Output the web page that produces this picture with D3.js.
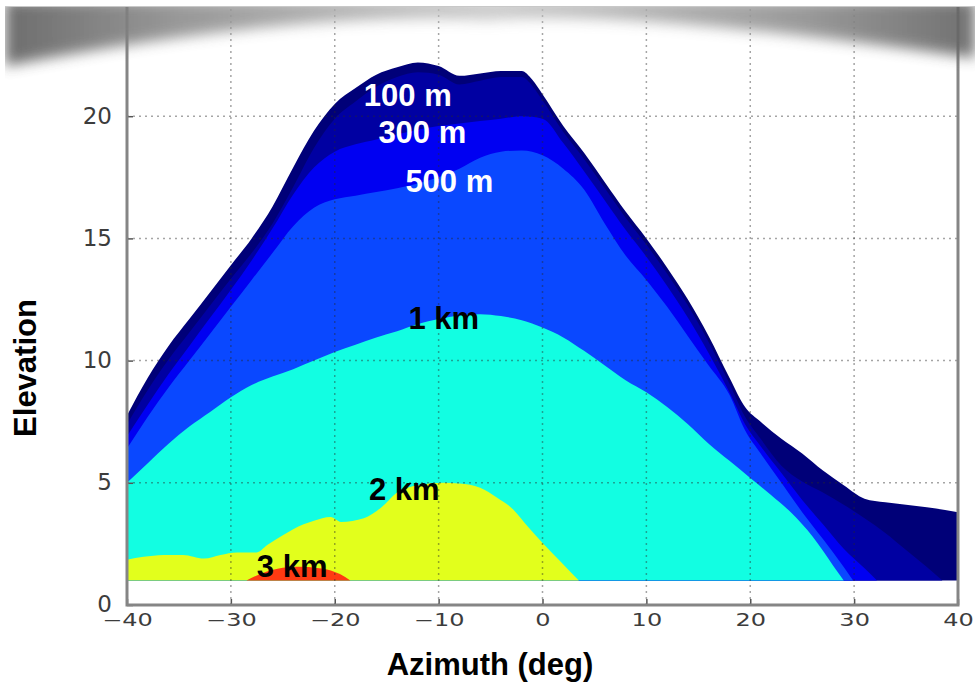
<!DOCTYPE html>
<html>
<head>
<meta charset="utf-8">
<script src="https://cdnjs.cloudflare.com/ajax/libs/d3/7.8.5/d3.min.js"></script>
<style>
  html, body { margin: 0; padding: 0; background: #fff; }
  svg { display: block; }
  .lbl { font-family: "Liberation Sans", Arial, sans-serif; font-weight: bold; font-size: 31px; }
  .tick text { font-family: "DejaVu Sans", sans-serif; fill: #3c3c3c; }
</style>
</head>
<body>
<svg id="chart" width="975" height="685"></svg>
<script>
(function() {
  'use strict';

  // contour bands, outermost first: [azimuth, elevation] of each band's top edge
  var band100m = [[-40,7.75],[-38,9.3],[-36,10.6],[-34,11.7],[-32,12.8],[-30,13.9],[-28,15.0],[-26,16.3],[-24,17.9],[-22,19.4],[-20,20.5],[-18,21.15],[-16,21.7],[-14,22.0],[-12,22.2],[-10,22.05],[-8,21.65],[-6,21.75],[-4,21.85],[-2,21.85],[-1,21.5],[0,20.9],[2,19.6],[4,18.5],[6,17.3],[8,16.1],[10,15.0],[12,13.8],[14,12.5],[16,11.0],[18,9.3],[19.5,8.1],[21,7.5],[23,6.8],[25,6.2],[27,5.5],[29,4.9],[31,4.35],[33,4.2],[35,4.1],[37,4.0],[40,3.8]];
  var band200m = [[-40,7.4],[-38,8.8],[-36,10.05],[-34,11.15],[-32,12.25],[-30,13.35],[-28,14.4],[-26,15.6],[-24,17.1],[-22,18.7],[-20,19.9],[-18,20.6],[-16,21.2],[-14,21.6],[-12,21.8],[-10,21.7],[-8,21.3],[-6,21.45],[-4,21.6],[-2,21.6],[-1,21.25],[0,20.65],[2,19.35],[4,18.25],[6,17.05],[8,15.85],[10,14.75],[12,13.55],[14,12.25],[16,10.75],[18,9.05],[19.5,7.7],[21,6.8],[23,5.7],[25,5.05],[27,4.6],[29,4.1],[31,3.55],[33,2.95],[35,2.25],[37,1.55],[38.5,1.0]];
  var band300m = [[-40,6.9],[-38,8.2],[-36,9.45],[-34,10.6],[-32,11.75],[-30,12.9],[-28,14.1],[-26,15.4],[-24,16.8],[-22,17.9],[-20,18.55],[-18,18.85],[-16,19.05],[-14,19.25],[-12,19.45],[-10,19.6],[-8,19.7],[-6,19.8],[-4,19.9],[-2,20.0],[0,19.9],[2,18.9],[4,17.75],[6,16.55],[8,15.35],[10,14.25],[12,13.05],[14,11.75],[16,10.3],[18,8.7],[19.5,7.4],[21,6.5],[23,5.4],[25,4.3],[27,3.3],[29,2.3],[31,1.5],[32.2,1.0]];
  var band500m = [[-40,6.4],[-38,7.7],[-36,8.9],[-34,10.0],[-32,11.1],[-30,12.2],[-28,13.3],[-26,14.4],[-24,15.5],[-22,16.25],[-20,16.6],[-18,16.75],[-16,16.9],[-14,17.05],[-12,17.25],[-10,17.5],[-8,17.85],[-6,18.3],[-4,18.55],[-2,18.6],[0,18.4],[2,17.85],[4,17.0],[6,15.6],[8,14.3],[10,13.3],[12,12.2],[14,11.0],[16,9.8],[18,8.6],[19.5,7.15],[21,6.2],[23,5.0],[25,3.8],[27,2.7],[29,1.55],[29.9,1.0]];
  var band1km = [[-40,5.0],[-38,5.8],[-36,6.6],[-34,7.3],[-32,7.9],[-30,8.5],[-28,9.0],[-26,9.35],[-24,9.65],[-22,10.0],[-20,10.35],[-18,10.65],[-16,10.95],[-14,11.2],[-12,11.5],[-10,11.7],[-8,11.85],[-6,11.9],[-4,11.82],[-2,11.65],[0,11.35],[2,10.95],[4,10.4],[6,9.8],[8,9.2],[10,8.7],[12,8.1],[14,7.4],[16,6.6],[18,5.9],[20,5.2],[22,4.5],[24,3.75],[26,2.8],[28,1.6],[29,1.0]];
  var band2km = [[-40,1.85],[-38.4,1.97],[-36.5,2.05],[-34.6,2.05],[-32.6,1.9],[-31,2.05],[-29.4,2.15],[-27.5,2.15],[-26.5,2.45],[-25,2.85],[-24,3.1],[-23,3.3],[-22,3.45],[-20.4,3.6],[-19.4,3.4],[-17.2,3.55],[-15.5,4.0],[-14,4.6],[-12,4.9],[-9.5,5.0],[-8,4.97],[-6,4.8],[-4.4,4.4],[-2.8,3.9],[-1.4,3.2],[0.1,2.5],[1.8,1.75],[3.5,1.0]];
  var band3km = [[-28.5,1.0],[-27,1.3],[-25.5,1.48],[-23.5,1.56],[-21.5,1.5],[-20,1.35],[-19,1.15],[-18.5,1.0]];

  var bands = [band100m, band200m, band300m, band500m, band1km, band2km, band3km];
  var bandColors = ['#000078', '#0000a2', '#0000f2', '#0a48ff', '#12fee2', '#e2ff1c', '#ff3a12'];
  var floorElev = 1;

  var xTicks = [-40, -30, -20, -10, 0, 10, 20, 30, 40];
  var yTicks = [0, 5, 10, 15, 20];

  var labelTexts = ['100 m', '300 m', '500 m', '1 km', '2 km', '3 km'];
  var labelAz = [-17.2, -15.8, -13.2, -12.9, -16.7, -27.5];
  var labelEl = [20.4, 18.9, 16.9, 11.3, 4.3, 1.15];
  var labelFill = ['#fff', '#fff', '#fff', '#000', '#000', '#000'];

  var svg = d3.select('#chart');
  var x = d3.scaleLinear().domain([-40, 40]).range([127, 958]);
  var y = d3.scaleLinear().domain([0, 25]).range([605, -6]);

  var defs = svg.append('defs');
  defs.append('filter').attr('id', 'soft')
    .attr('x', '-10%').attr('y', '-50%').attr('width', '120%').attr('height', '250%')
    .append('feGaussianBlur').attr('stdDeviation', 7);
  var grad = defs.append('linearGradient').attr('id', 'shade');
  [[0, '#5e5e5e'], [0.18, '#8e8e8e'], [0.5, '#c4c4c4'], [0.82, '#909090'], [1, '#626262']]
    .forEach(function(s) {
      grad.append('stop').attr('offset', s[0]).attr('stop-color', s[1]);
    });

  var area = d3.area()
    .x(function(d) { return x(d[0]); })
    .y0(y(floorElev))
    .y1(function(d) { return y(d[1]); })
    .curve(d3.curveMonotoneX);

  svg.append('g').selectAll('path')
    .data(bands)
    .join('path')
    .attr('d', area)
    .attr('fill', function(d, i) { return bandColors[i]; });

  // dotted grid on top of the fills
  var grid = svg.append('g')
    .attr('stroke', 'rgba(40,40,40,0.42)')
    .attr('stroke-width', 1.5)
    .attr('stroke-dasharray', '2,4');
  grid.selectAll('.gx')
    .data(xTicks.slice(1, -1))
    .join('line')
    .attr('x1', x).attr('x2', x)
    .attr('y1', y(0)).attr('y2', 0);
  grid.selectAll('.gy')
    .data(yTicks.slice(1))
    .join('line')
    .attr('x1', x(-40)).attr('x2', x(40))
    .attr('y1', y).attr('y2', y);

  var fmt = function(d) { return d < 0 ? '\u2212' + Math.abs(d) : String(d); };

  var xAxis = svg.append('g')
    .attr('transform', 'translate(0,' + y(0) + ')')
    .call(d3.axisBottom(x).tickValues(xTicks).tickFormat(fmt).tickSizeInner(-6).tickSizeOuter(0));
  xAxis.select('.domain').remove();
  xAxis.selectAll('.tick line').attr('stroke', '#555').attr('stroke-width', 1.5);
  xAxis.selectAll('.tick text')
    .attr('y', 0).attr('dy', null)
    .attr('font-size', 24)
    .attr('transform', 'translate(0,21) scale(1,0.72)');

  var yAxis = svg.append('g')
    .attr('transform', 'translate(' + x(-40) + ',0)')
    .call(d3.axisLeft(y).tickValues(yTicks).tickSizeInner(-6).tickSizeOuter(0));
  yAxis.select('.domain').remove();
  yAxis.selectAll('.tick line').attr('stroke', '#555').attr('stroke-width', 1.5);
  yAxis.selectAll('.tick text')
    .attr('x', -15).attr('dy', '0.3em')
    .attr('font-size', 23);

  // spines
  svg.append('path')
    .attr('d', 'M' + x(-40) + ',0V' + y(0) + 'H' + x(40) + 'V0')
    .attr('fill', 'none')
    .attr('stroke', '#858585')
    .attr('stroke-width', 3);

  svg.append('g').selectAll('text')
    .data(labelTexts)
    .join('text')
    .attr('class', 'lbl')
    .attr('x', function(d, i) { return x(labelAz[i]); })
    .attr('y', function(d, i) { return y(labelEl[i]); })
    .attr('fill', function(d, i) { return labelFill[i]; })
    .text(function(d) { return d; });

  // page-curl shadow and the card lying across the top
  svg.append('path')
    .attr('d', 'M5,0H975V58Q620,8 490,20Q300,10 5,66Z')
    .attr('fill', 'url(#shade)')
    .attr('opacity', 0.9)
    .attr('filter', 'url(#soft)');
  svg.append('rect')
    .attr('x', 0).attr('y', 0).attr('width', 5).attr('height', 90)
    .attr('fill', '#fff');
  svg.append('rect')
    .attr('x', 0).attr('y', -1).attr('width', 975).attr('height', 7)
    .attr('fill', '#fff');
  svg.append('line')
    .attr('x1', 5).attr('x2', 975).attr('y1', 6.5).attr('y2', 6.5)
    .attr('stroke', '#c8c8c8').attr('stroke-width', 1);

  svg.append('text')
    .attr('class', 'lbl')
    .attr('transform', 'translate(36,368) rotate(-90)')
    .attr('text-anchor', 'middle')
    .text('Elevation');

  svg.append('text')
    .attr('class', 'lbl')
    .attr('x', 490).attr('y', 675)
    .attr('text-anchor', 'middle')
    .text('Azimuth (deg)');
})();
</script>
</body>
</html>
